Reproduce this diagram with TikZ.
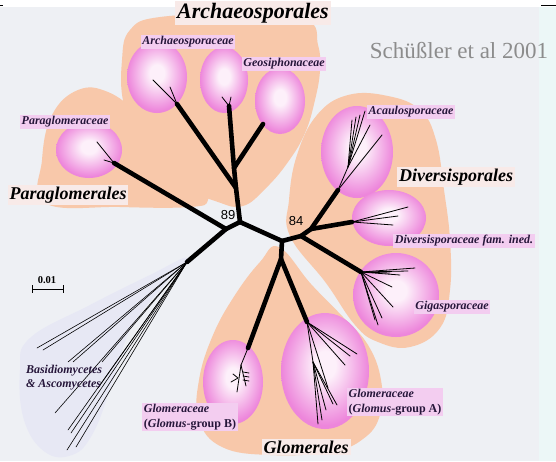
\documentclass[tikz,border=0pt]{standalone}
\usepackage{fontspec}
\setmainfont{Liberation Serif}
\newfontfamily\numfont{Liberation Sans}
\usepackage{tikz}
\usetikzlibrary{calc}

\definecolor{bggray}{RGB}{238,240,244}
\definecolor{rimcyan}{RGB}{236,247,247}
\definecolor{peach}{RGB}{248,200,170}
\definecolor{pinkin}{RGB}{253,240,250}
\definecolor{pinkout}{RGB}{237,134,219}
\definecolor{fambg}{RGB}{243,205,240}
\definecolor{ordbg}{RGB}{248,234,232}
\definecolor{lavender}{RGB}{231,232,244}
\definecolor{textdark}{RGB}{38,22,58}
\definecolor{citegray}{RGB}{140,140,140}

\pgfdeclareradialshading{pinkglow}{\pgfpoint{0bp}{3bp}}{color(0bp)=(pinkin); color(6bp)=(pinkin); color(25bp)=(pinkout); color(50bp)=(pinkout)}

\begin{document}
\begin{tikzpicture}[
    x=1pt, y=-1pt,
    thick branch/.style={line width=4.6pt, line cap=round, line join=round},
    thin branch/.style={line width=0.8pt, line cap=round},
    family blob/.style={shading=pinkglow},
    family label/.style={fill=fambg, text=textdark, inner sep=1.5pt, align=left,
        font=\bfseries\itshape\fontsize{12}{15}\selectfont},
    order label/.style={fill=ordbg, inner sep=2pt, font=\bfseries\itshape\fontsize{18}{20}\selectfont},
    support/.style={font=\numfont\fontsize{13}{13}\selectfont}
    ]
    \useasboundingbox (0,0) rectangle (556,461);

    % background
    \fill[bggray] (0,0) rectangle (556,461);
    \fill[white] (0,0) rectangle (556,7);
    \fill[rimcyan] (539,7) rectangle (556,461);
    \draw[line width=1pt] (541,5) -- (556,5);
    \draw[line width=1pt] (0,5) -- (3,5);

    % order blobs
    \fill[peach] plot[smooth cycle, tension=0.7] coordinates {(160,17) (240,15) (306,20) (318,45) (320,70) (315,100)
        (305,133) (288,162) (266,188) (243,206) (218,202) (182,185) (143,147) (124,105) (122,60) (130,30)};
    \fill[peach] plot[smooth cycle, tension=0.7] coordinates {(45,203) (42,160) (52,115) (78,90) (108,92) (140,115)
        (175,148) (200,180) (208,200) (190,207) (120,207)};
    \fill[peach] plot[smooth cycle, tension=0.7] coordinates {(290,236) (289,200) (297,155) (317,115) (348,95) (388,96)
        (420,110) (436,140) (444,190) (450,240) (450,290) (440,328) (410,347) (378,342) (355,325) (326,283)};
    \fill[peach] plot[smooth cycle, tension=0.7] coordinates {(279,247) (311,284) (343,317) (368,345) (381,380) (380,415)
        (363,439) (330,452) (270,455) (222,447) (199,420) (199,380) (213,335) (235,295) (260,262)};
    \fill[lavender] plot[smooth cycle, tension=0.7] coordinates {(187,258) (160,290) (130,330) (110,390) (92,435)
        (72,455) (45,452) (24,420) (20,370) (30,338) (90,305) (150,275)};

    % family blobs
    \shade[family blob] (157,77) ellipse (30 and 36);
    \shade[family blob] (224,80) ellipse (24 and 33);
    \shade[family blob] (280,101) ellipse (25 and 33);
    \shade[family blob] (89,150) ellipse (33 and 28);
    \shade[family blob] (357,152) ellipse (36 and 46);
    \shade[family blob] (389,218) ellipse (37 and 28);
    \shade[family blob] (396,295) ellipse (43 and 42);
    \shade[family blob] (325,371) ellipse (44 and 58);
    \shade[family blob] (233,382) ellipse (30 and 42);

    % inner nodes of the tree
    \coordinate (J1) at (226,229);
    \coordinate (J2) at (240,222);
    \coordinate (J3) at (282,241);
    \coordinate (J4) at (281,259);
    \coordinate (J5) at (301,236);
    \coordinate (D84) at (311,229);
    \coordinate (O) at (187,262);
    \coordinate (P) at (114,163);
    \coordinate (M) at (236,188);
    \coordinate (K) at (234,168);
    \coordinate (AT) at (229,106);
    \coordinate (G) at (263,124);
    \coordinate (AL) at (177,104);
    \coordinate (GB) at (248,348);
    \coordinate (GA) at (307,322);
    \coordinate (AC) at (338,190);
    \coordinate (DV) at (352,222);
    \coordinate (GG) at (361,272);
    \coordinate (AS) at (348,167);
    \coordinate (GS) at (313,362);
    \coordinate (BS) at (241,365);

    % thick branches
    \draw[thick branch] (J1) -- (J2) -- (M) -- (K) -- (AT);
    \draw[thick branch] (K) -- (G);
    \draw[thick branch] (M) -- (AL);
    \draw[thick branch] (J1) -- (P);
    \draw[thick branch] (J1) -- (O);
    \draw[thick branch] (J2) -- (J3) -- (J4) -- (GB);
    \draw[thick branch] (J4) -- (GA);
    \draw[thick branch] (J3) -- (J5) -- (D84) -- (AC);
    \draw[thick branch] (D84) -- (DV);
    \draw[thick branch] (J5) -- (GG);

    % terminal fans
    \foreach \x/\y [count=\i] in {97/142, 104/160}
        {\coordinate (p\i) at (\x,\y); \draw[thin branch] (P) -- (p\i);}
    \foreach \x/\y [count=\i] in {153/80, 170/87}
        {\coordinate (al\i) at (\x,\y); \draw[thin branch] (AL) -- (al\i);}
    \foreach \x/\y [count=\i] in {222/97, 231/97}
        {\coordinate (at\i) at (\x,\y); \draw[thin branch] (AT) -- (at\i);}
    \draw[thin branch] (AC) -- (AS);
    \foreach \x/\y [count=\i] in {365/111, 360/115, 356/117, 352/120, 370/125}
        {\coordinate (ac\i) at (\x,\y); \draw[thin branch] (AS) -- (ac\i);}
    \coordinate (ac6) at (382,135);
    \draw[thin branch] (AC) -- (ac6);
    \foreach \x/\y [count=\i] in {408/207, 398/216, 393/225}
        {\coordinate (dv\i) at (\x,\y); \draw[thin branch] (DV) -- (dv\i);}
    \foreach \x/\y [count=\i] in {415/268, 408/271, 400/275, 390/273, 392/287, 393/307, 382/318, 378/325, 375/320}
        {\coordinate (gg\i) at (\x,\y); \draw[thin branch] (GG) -- (gg\i);}
    \foreach \x/\y [count=\i] in {357/354, 350/356, 345/365, 328/388}
        {\coordinate (ga\i) at (\x,\y); \draw[thin branch] (GA) -- (ga\i);}
    \draw[thin branch] (GA) -- (GS);
    \foreach \x/\y [count=\i] in {318/424, 322/420, 326/410, 333/404, 337/405}
        {\coordinate (gs\i) at (\x,\y); \draw[thin branch] (GS) -- (gs\i);}
    \draw[thin branch] (GB) -- (BS);
    \coordinate (bs1) at (237,392);
    \coordinate (bs2) at (238,378);
    \coordinate (bs3) at (246,386);
    \draw[thin branch] (BS) -- (bs1);
    \draw[thin branch] (bs2) -- ++(-7,4) (bs2) -- ++(-5,-4);
    \draw[thin branch] (BS) -- (bs3);
    \foreach \t in {372,376,380}
        \draw[thin branch] (243,\t) -- (249,\t+1);
    \foreach \x/\y [count=\i] in {37/348, 43/350, 68/362, 73/362, 102/362, 55/413, 98/388, 68/430, 71/433, 67/450, 76/447}
        {\coordinate (o\i) at (\x,\y); \draw[thin branch, line width=0.6pt] (O) -- (o\i);}

    % support values
    \node[support] (n89) at (228,215) {89};
    \node[support] (n84) at (296,221) {84};

    % scale bar
    \coordinate (sb1) at (32,289);
    \coordinate (sb2) at (63,289);
    \draw[line width=1pt] (sb1) -- (sb2);
    \draw[line width=1pt] ($(sb1)+(0,-4)$) -- ($(sb1)+(0,4)$);
    \draw[line width=1pt] ($(sb2)+(0,-4)$) -- ($(sb2)+(0,4)$);
    \node[font=\bfseries\fontsize{10.5}{11}\selectfont] (sbl) at (47,280) {0.01};

    % order names
    \node[order label, font=\bfseries\itshape\fontsize{22}{24}\selectfont] (archT) at (253,13) {Archaeosporales};
    \node[order label] (paragT) at (68,195) {Paraglomerales};
    \node[order label] (diversT) at (456,177) {Diversisporales};
    \node[order label] (glomT) at (306,447) {Glomerales};

    % family names
    \node[family label] (archF) at (188,42) {Archaeosporaceae};
    \node[family label] (geosF) at (284,64) {Geosiphonaceae};
    \node[family label] (paragF) at (65,122) {Paraglomeraceae};
    \node[family label] (acauF) at (411,112) {Acaulosporaceae};
    \node[family label] (diversF) at (464,241) {Diversisporaceae fam. ined.};
    \node[family label] (gigasF) at (452,307) {Gigasporaceae};
    \node[family label] (glomAF) at (395,402) {Glomeraceae\\{\upshape(}Glomus{\upshape -group A)}};
    \node[family label] (glomBF) at (190,417) {Glomeraceae\\{\upshape(}Glomus{\upshape -group B)}};
    \node[align=left, text=textdark, font=\bfseries\itshape\fontsize{12}{14}\selectfont] (basidio) at (64,378)
        {Basidiomycetes\\\& Ascomycetes};

    % citation
    \node[text=citegray, font=\fontsize{23}{24}\selectfont] (cite) at (459,51) {Schüßler et al 2001};
\end{tikzpicture}
\end{document}
